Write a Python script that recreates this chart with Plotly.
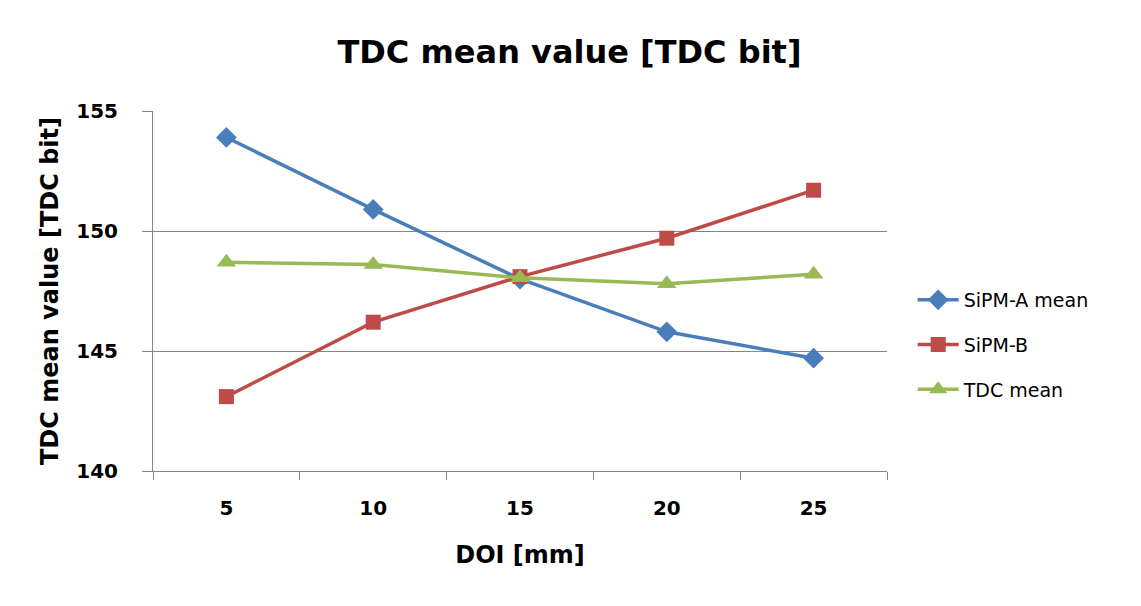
import plotly.graph_objects as go

categories = ["5", "10", "15", "20", "25"]
sipm_a = [153.9, 150.9, 148.0, 145.8, 144.7]
sipm_b = [143.1, 146.2, 148.1, 149.7, 151.7]
tdc_mean = [148.7, 148.6, 148.05, 147.8, 148.2]

series = [
    ("SiPM-A mean", sipm_a, "#4A7EBB", "diamond", 16),
    ("SiPM-B", sipm_b, "#BE4B48", "square", 15),
    ("TDC mean", tdc_mean, "#98B954", "triangle-up", 17),
]

FONT = "DejaVu Sans, sans-serif"

fig = go.Figure()
for i, (name, vals, color, sym, size) in enumerate(series):
    fig.add_trace(go.Scatter(
        x=categories, y=vals, name=name, mode="lines+markers",
        line=dict(color=color, width=3.5),
        marker=dict(symbol=sym, size=size, color=color),
        legendgroup=f"g{i}",
    ))

fig.update_layout(
    width=1141, height=606,
    paper_bgcolor="white", plot_bgcolor="white",
    margin=dict(l=145, r=262, t=103, b=143),
    title=dict(text="<b>TDC mean value [TDC bit]</b>", x=0.5 - 9 / 1141, xanchor="center",
               y=1 - 44 / 606, yanchor="middle",
               font=dict(family=FONT, size=32, color="black")),
    legend=dict(x=1.035, xanchor="left", y=0.35, yanchor="middle",
                font=dict(family=FONT, size=19, color="black"),
                tracegroupgap=17, itemwidth=41, bgcolor="rgba(0,0,0,0)"),
    font=dict(family=FONT, color="black"),
)

fig.update_xaxes(
    type="category", range=[-0.5, 4.5], tickson="boundaries",
    ticks="outside", ticklen=8,
    tickcolor="#868686", showline=True, linecolor="#868686", linewidth=1,
    showgrid=False, ticklabelstandoff=19,
    tickfont=dict(family=FONT, size=20, color="black", weight="bold"),
    title=dict(text="<b>DOI [mm]</b>", font=dict(family=FONT, size=24, color="black"),
               standoff=27),
)
fig.update_yaxes(
    range=[140, 155], dtick=5, ticks="outside", ticklen=10, tickcolor="#868686",
    showline=True, linecolor="#868686", linewidth=1,
    showgrid=True, gridcolor="#868686", gridwidth=1, zeroline=False,
    ticklabelstandoff=20,
    tickfont=dict(family=FONT, size=20, color="black", weight="bold"),
    tickformat="d",
    title=dict(text="<b>TDC mean value [TDC bit]</b>",
               font=dict(family=FONT, size=24, color="black"), standoff=10),
)

fig.write_html("out.html")
